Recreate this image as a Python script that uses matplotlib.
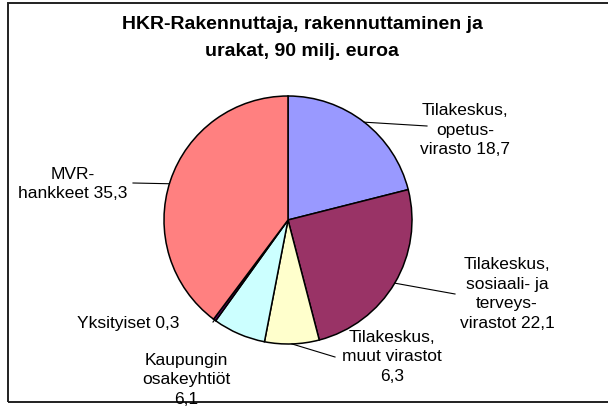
import numpy as np
import matplotlib.pyplot as plt
from matplotlib.patches import Rectangle

# data
labels = ['Tilakeskus,\nopetus-\nvirasto 18,7',
          'Tilakeskus,\nsosiaali- ja\nterveys-\nvirastot 22,1',
          'Tilakeskus,\nmuut virastot\n6,3',
          'Kaupungin\nosakeyhtiöt\n6,1',
          'Yksityiset 0,3',
          'MVR-\nhankkeet 35,3']
values = [18.7, 22.1, 6.3, 6.1, 0.3, 35.3]
colors = ['#9999FF', '#993366', '#FFFFCC', '#CCFFFF', '#660066', '#FF8080']
title = 'HKR-Rakennuttaja, rakennuttaminen ja\nurakat, 90 milj. euroa'

W, H = 608, 410
plt.rcParams['font.family'] = ['Liberation Sans', 'DejaVu Sans']

fig = plt.figure(figsize=(W / 100, H / 100), dpi=100)
ax = fig.add_axes([0, 0, 1, 1])

cx, cy, r = 288, H - 221, 124
wedges, _ = ax.pie(values, colors=colors, startangle=90, counterclock=False,
                   center=(cx, cy), radius=r,
                   wedgeprops=dict(edgecolor='black', linewidth=1.1))
ax.set_xlim(0, W)
ax.set_ylim(0, H)
ax.set_aspect('equal')
ax.axis('off')

# outer frame (right edge runs off the picture)
ax.add_patch(Rectangle((8, H - 403), 640, 399, fill=False,
                       edgecolor='#202020', linewidth=1.4))

ax.text(302, H - 38, title, ha='center', va='center', fontsize=14,
        fontweight='bold', linespacing=1.8)

# label layout: text centre, text alignment, leader end (None = no leader), angle override
layout = [
    ((465, 130), 'center', (427, 127), None),
    ((507, 294), 'center', (455, 295), None),
    ((392, 357), 'center', (335, 358), None),
    ((186, 380), 'center', None, None),
    ((179, 324), 'right', (213, 323), None),
    ((73, 184), 'center', (133, 184), 163),
]

for w, lab, (pos, ha, end, ang) in zip(wedges, labels, layout):
    if ang is None:
        ang = (w.theta1 + w.theta2) / 2
    a = np.deg2rad(ang)
    sx, sy = cx + r * np.cos(a), cy + r * np.sin(a)
    if end is not None:
        ax.plot([sx, end[0]], [sy, H - end[1]], color='black', linewidth=0.8)
    ax.text(pos[0], H - pos[1], lab, ha=ha, va='center', multialignment='center',
            fontsize=12.5, linespacing=1.38)

fig.savefig('out.png', dpi=100)
